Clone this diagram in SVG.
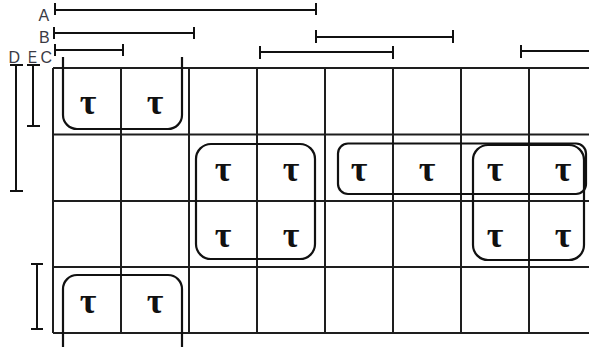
<svg xmlns="http://www.w3.org/2000/svg" width="589" height="347" viewBox="0 0 589 347">
<style>
.g{stroke:#1e1e1e;stroke-width:2;fill:none}
.bar{stroke:#111;stroke-width:2;fill:none}
.loop{stroke:#111;stroke-width:2.2;fill:none}
.lbl{font-family:"Liberation Sans",Arial,sans-serif;font-size:16px;fill:#3a3a44}
.t{font-family:"Liberation Serif","DejaVu Serif",serif;font-weight:bold;font-size:36px;fill:#111;text-anchor:middle}
</style>
<rect width="589" height="347" fill="#fff"/>
<g id="grid">
<path class="g" d="M53,68H589M53,134.5H589M53,201H589M53,267H589M53,333H589"/>
<path class="g" d="M53,68V333M121,68V333M189,68V333M257,68V333M325,68V333M393,68V333M461,68V333M529,68V333"/>
</g>
<g id="labels">
<text class="lbl" x="38.5" y="21">A</text>
<text class="lbl" x="39" y="43">B</text>
<text class="lbl" x="40.5" y="63">C</text>
<text class="lbl" x="8.5" y="63">D</text>
<text class="lbl" x="28" y="63" textLength="9" lengthAdjust="spacingAndGlyphs">E</text>
</g>
<g id="bars">
<path class="bar" d="M55,10H316M55,3V15M316,3V15"/>
<path class="bar" d="M54,33H194M54,27V39M194,27V39"/>
<path class="bar" d="M55,50H123M55,44V56M123,44V56"/>
<path class="bar" d="M316,37H453M316,30V43M453,30V43"/>
<path class="bar" d="M260,52H393M260,46V59M393,46V59"/>
<path class="bar" d="M521,51H589M521,45V58"/>
<path class="bar" d="M16,65V191M10,65H23M10,191H23"/>
<path class="bar" d="M33,65V126M27,65H40M27,126H40"/>
<path class="bar" d="M37,264V329M31,264H43M31,329H43"/>
</g>
<g id="loops">
<path id="loop1" class="loop" d="M63,57V115A14,14 0 0 0 77,129H168A14,14 0 0 0 182,115V57"/>
<path id="loop2" class="loop" d="M63,347V289A14,14 0 0 1 77,275H168A14,14 0 0 1 182,289V347"/>
<rect id="loop3" class="loop" x="196" y="144" width="119" height="115" rx="15"/>
<rect id="loop4" class="loop" x="338" y="143.5" width="248" height="50.5" rx="10"/>
<rect id="loop5" class="loop" x="473" y="145" width="111" height="115" rx="15"/>
</g>
<g id="taus">
<text class="t" x="88" y="114">τ</text>
<text class="t" x="155" y="114">τ</text>
<text class="t" x="223" y="181">τ</text>
<text class="t" x="291" y="181">τ</text>
<text class="t" x="359" y="181">τ</text>
<text class="t" x="427" y="181">τ</text>
<text class="t" x="495" y="181">τ</text>
<text class="t" x="563" y="181">τ</text>
<text class="t" x="223" y="247">τ</text>
<text class="t" x="291" y="247">τ</text>
<text class="t" x="495" y="247">τ</text>
<text class="t" x="563" y="247">τ</text>
<text class="t" x="88" y="313">τ</text>
<text class="t" x="155" y="313">τ</text>
</g>
</svg>
